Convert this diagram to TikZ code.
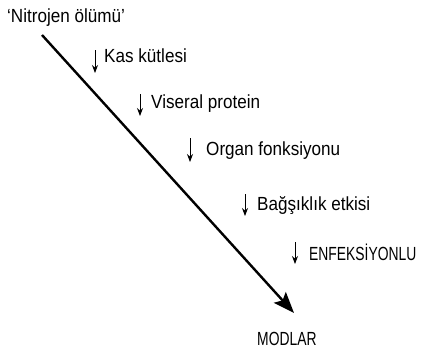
\documentclass[tikz,border=0pt]{standalone}
\usepackage{fontspec}
\setmainfont[FakeStretch=0.9]{Liberation Sans}
\newfontfamily\capsfont[FakeStretch=0.73]{Liberation Sans}
\usetikzlibrary{arrows.meta}
\tikzstyle{label} = [anchor=base west,inner sep=0pt,font=\fontsize{19}{21}\selectfont]
\tikzstyle{caps} = [label,font=\fontsize{19}{21}\selectfont\capsfont]
\tikzstyle{arrow} = [line width=2.4pt,-{Stealth[length=21pt,width=16pt,inset=4pt]}]
\tikzstyle{drop} = [line width=0.8pt,-{Stealth[length=8pt,width=6pt]}]

\begin{document}
\begin{tikzpicture}[x=1pt,y=-1pt]
\useasboundingbox (0,0) rectangle (424,348);

\node(top) [label] at (7,23) {`Nitrojen ölümü'};
\coordinate (start) at (42,35);
\coordinate (end) at (294,313);
\draw [arrow] (start) -- (end);
\node(mod) [caps] at (257,345) {MODLAR};

% losses along the way, each with a small down arrow
\node(kas) [label] at (104,63) {Kas kütlesi};
\node(vis) [label] at (151,108) {Viseral protein};
\node(org) [label] at (206,155) {Organ fonksiyonu};
\node(bag) [label] at (257,210) {Bağşıklık etkisi};
\node(enf) [caps] at (309,260) {ENFEKSİYONLU};

\coordinate (kas1) at (95,50);   \coordinate (kas2) at (95,73);
\coordinate (vis1) at (140,94);  \coordinate (vis2) at (140,116);
\coordinate (org1) at (190,138); \coordinate (org2) at (190,162);
\coordinate (bag1) at (245,194); \coordinate (bag2) at (245,216);
\coordinate (enf1) at (295,242); \coordinate (enf2) at (295,264);

\draw [drop] (kas1) -- (kas2);
\draw [drop] (vis1) -- (vis2);
\draw [drop] (org1) -- (org2);
\draw [drop] (bag1) -- (bag2);
\draw [drop] (enf1) -- (enf2);

\end{tikzpicture}
\end{document}
